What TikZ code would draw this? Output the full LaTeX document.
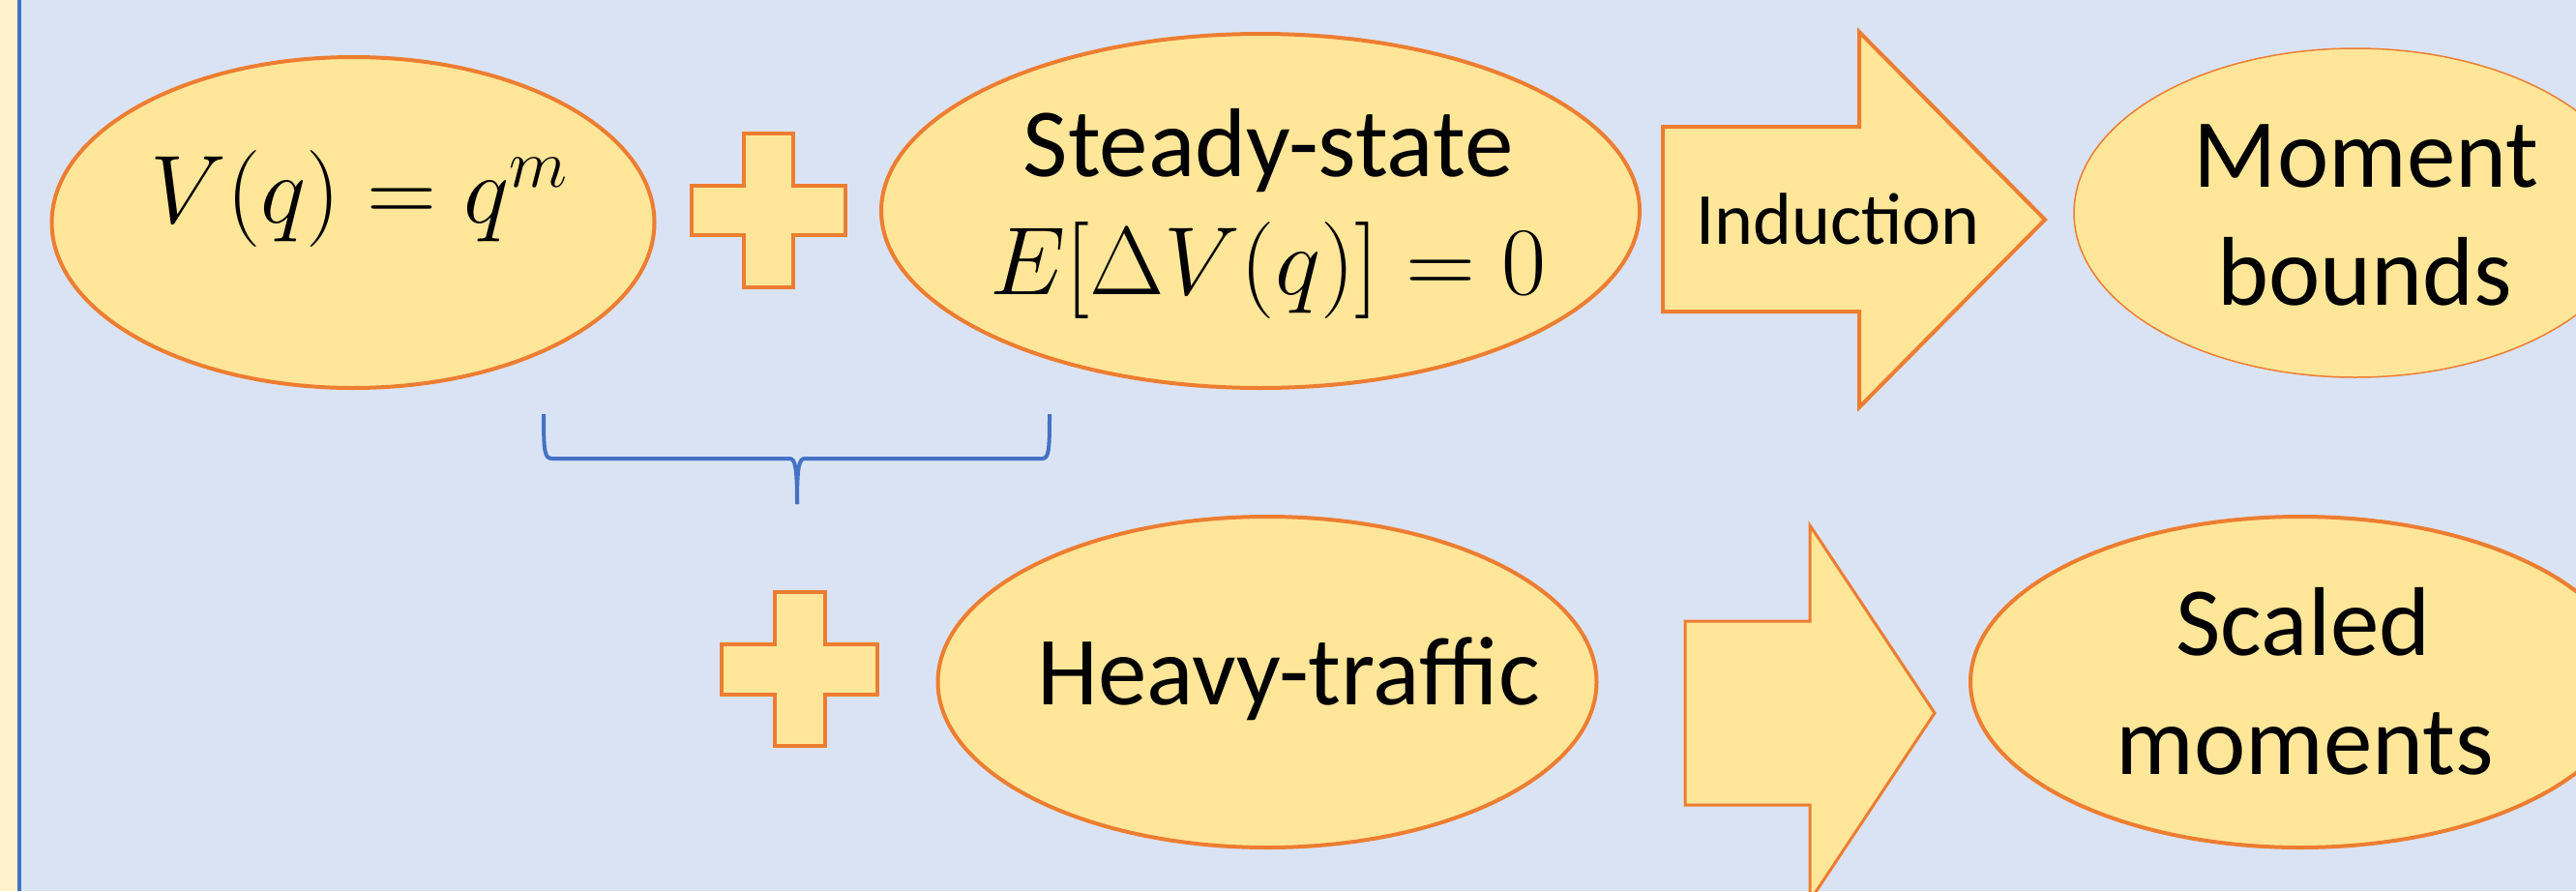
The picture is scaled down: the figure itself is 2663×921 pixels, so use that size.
\RequirePackage{fix-cm}
\documentclass[tikz,border=0pt]{standalone}
\usepackage{fontspec}
\setmainfont{Carlito}
\usetikzlibrary{shapes.geometric}
\definecolor{bgblue}{HTML}{DAE3F3}
\definecolor{sidebar}{HTML}{FFF2CC}
\definecolor{rulecol}{HTML}{4472C4}
\definecolor{fillyellow}{HTML}{FFE699}
\definecolor{edgeorange}{HTML}{ED7D31}
\begin{document}
\begin{tikzpicture}[x=1pt,y=-1pt,
  blob/.style={ellipse, draw=edgeorange, fill=fillyellow, line width=4pt, inner sep=0pt},
  shapeline/.style={draw=edgeorange, fill=fillyellow, line width=4.5pt, line join=miter},
  bigtext/.style={font=\fontsize{101}{122}\selectfont, inner sep=0pt, anchor=base},
  smalltext/.style={font=\fontsize{76}{90}\selectfont, inner sep=0pt, anchor=base},
  mathtext/.style={font=\fontsize{100}{120}\selectfont, inner sep=0pt, anchor=base},
  bracket/.style={draw=rulecol, line width=4pt, line cap=butt},
]
\useasboundingbox (0,0) rectangle (2663,921);
\clip (0,0) rectangle (2663,921);

% page background, side strip and rule
\fill[bgblue] (0,0) rectangle (2663,921);
\fill[sidebar] (0,0) rectangle (18,921);
\draw[rulecol, line width=4pt] (20,0) -- (20,921);

% ellipses
\node[blob, minimum width=623pt, minimum height=342pt] (lyap) at (365,230) {};
\node[blob, minimum width=784pt, minimum height=366pt] (steady) at (1303,218) {};
\node[blob, line width=1.5pt, minimum width=582pt, minimum height=340pt] (bounds) at (2435,220) {};
\node[blob, minimum width=681pt, minimum height=342pt] (heavy) at (1310,705) {};
\node[blob, minimum width=682pt, minimum height=342pt] (scaled) at (2378,705) {};

% ellipse labels
\node[mathtext] (lyaptxt) at (371,230) {$V(q) = q^m$};
\node[bigtext] (steadytxt) at (1311,182) {Steady-state};
\node[mathtext] (drifttxt) at (1311,304) {$E[\Delta V(q)] = 0$};
\node[bigtext] (momtxt) at (2446,193) {Moment};
\node[bigtext] (bndtxt) at (2445,315) {bounds};
\node[bigtext] (heavytxt) at (1332,728) {Heavy-traffic};
\node[bigtext] (scaltxt) at (2381,677) {Scaled};
\node[bigtext] (momstxt) at (2383,800) {moments};

% plus signs
\draw[shapeline] (769,138) -- (820,138) -- (820,192) -- (874,192) -- (874,243)
  -- (820,243) -- (820,297) -- (769,297) -- (769,243) -- (715,243) -- (715,192)
  -- (769,192) -- cycle;
\draw[shapeline] (801,612) -- (853,612) -- (853,666) -- (907,666) -- (907,718)
  -- (853,718) -- (853,771) -- (801,771) -- (801,718) -- (746,718) -- (746,666)
  -- (801,666) -- cycle;

% block arrows
\draw[shapeline, line width=4pt] (1719,131) -- (1922,131) -- (1922,33) -- (2114,227)
  -- (1922,421) -- (1922,322) -- (1719,322) -- cycle;
\node[smalltext] (induct) at (1900,252) {Induction};
\draw[shapeline, line width=3pt] (1742,642) -- (1871,642) -- (1871,543) -- (2000,737)
  -- (1871,931) -- (1871,832) -- (1742,832) -- cycle;

% brace under the first two terms
\coordinate (brL) at (562,428);
\coordinate (brR) at (1085,428);
\coordinate (brTip) at (824,521);
\draw[bracket] (brL) .. controls (562,468) and (563,474) .. (571,474) -- (816,474)
  .. controls (822,474) and (824,482) .. (brTip);
\draw[bracket] (brR) .. controls (1085,468) and (1084,474) .. (1077,474) -- (832,474)
  .. controls (826,474) and (824,482) .. (brTip);
\end{tikzpicture}
\end{document}
